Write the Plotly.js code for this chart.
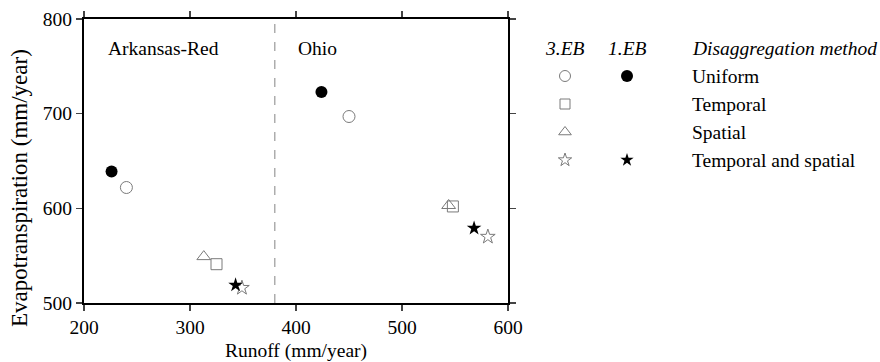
<!DOCTYPE html>
<html><head><meta charset="utf-8">
<script src="https://cdn.plot.ly/plotly-3.0.1.min.js"></script>
<style>body{margin:0;background:#fff}#c{width:880px;height:362px}</style>
</head><body><div id="c"></div>
<script>
// ---- data ----
const methods = ['Uniform', 'Temporal', 'Spatial', 'Temporal and spatial'];
const basinNames = ['Arkansas-Red', 'Ohio'];
const basinLabelX = [221, 400];
const basinLabelY = 769;
const dividerX = 380;
// 3.EB (open symbols) per method: [Arkansas-Red, Ohio]
const eb3Runoff = {
  'Uniform': [240, 450],
  'Temporal': [325, 548],
  'Spatial': [313, 544],
  'Temporal and spatial': [349, 581]
};
const eb3ET = {
  'Uniform': [622, 697],
  'Temporal': [541, 602],
  'Spatial': [549, 603],
  'Temporal and spatial': [516, 570]
};
// 1.EB (filled symbols) only for two methods
const eb1Runoff = {
  'Uniform': [226, 424],
  'Temporal and spatial': [343, 568]
};
const eb1ET = {
  'Uniform': [639, 723],
  'Temporal and spatial': [519, 579]
};
const xTicks = [200, 300, 400, 500, 600];
const yTicks = [500, 600, 700, 800];

// ---- styles ----
const openSym = {'Uniform':'circle-open','Temporal':'square-open','Spatial':'triangle-up-open','Temporal and spatial':'star-open'};
const fillSym = {'Uniform':'circle','Temporal and spatial':'star'};
const openSize = {'Uniform':12,'Temporal':11,'Spatial':12,'Temporal and spatial':11};
const fillSize = {'Uniform':12,'Temporal and spatial':11};
const legOpenSize = {'Uniform':11,'Temporal':10,'Spatial':11,'Temporal and spatial':10};
const legFillSize = {'Uniform':12,'Temporal and spatial':10};
const grey = '#7a7a7a';
const FONT = 'Liberation Serif, Times New Roman, serif';
const FS = 19.5;

const traces = [];
methods.forEach(m => {
  traces.push({x: eb3Runoff[m], y: eb3ET[m], type:'scatter', mode:'markers',
    marker:{symbol:openSym[m], size:openSize[m], color:grey, line:{color:grey, width:1}},
    xaxis:'x', yaxis:'y', hoverinfo:'skip'});
  if (eb1Runoff[m]) traces.push({x: eb1Runoff[m], y: eb1ET[m], type:'scatter', mode:'markers',
    marker:{symbol:fillSym[m], size:fillSize[m], color:'#000'},
    xaxis:'x', yaxis:'y', hoverinfo:'skip'});
});

// legend drawn in a secondary, hidden axis
const col3 = 565, col1 = 627, colText = 690;
methods.forEach((m, i) => {
  traces.push({x:[col3], y:[i+1], type:'scatter', mode:'markers',
    marker:{symbol:openSym[m], size:legOpenSize[m], color:grey, line:{color:grey, width:1}},
    xaxis:'x2', yaxis:'y2', hoverinfo:'skip'});
  if (fillSym[m]) traces.push({x:[col1], y:[i+1], type:'scatter', mode:'markers',
    marker:{symbol:fillSym[m], size:legFillSize[m], color:'#000'},
    xaxis:'x2', yaxis:'y2', hoverinfo:'skip'});
});

const annotations = [];
basinNames.forEach((b, i) => annotations.push({x: basinLabelX[i], y: basinLabelY, xref:'x', yref:'y',
  text:b, showarrow:false, xanchor:'left', yanchor:'middle', font:{family:FONT, size:FS, color:'#000'}}));
[['3.EB', col3, 'center'], ['1.EB', col1, 'center'], ['Disaggregation method', colText, 'left']].forEach(h =>
  annotations.push({x:h[1], y:0, xref:'x2', yref:'y2', text:'<i>'+h[0]+'</i>', showarrow:false,
    xanchor:h[2], yanchor:'middle', font:{family:FONT, size:FS, color:'#000'}}));
methods.forEach((m, i) => annotations.push({x:colText, y:i+1, xref:'x2', yref:'y2', text:m, showarrow:false,
  xanchor:'left', yanchor:'middle', font:{family:FONT, size:FS, color:'#000'}}));

const plotW = 880 - 84 - 5;
// y-axis title as a rotated annotation
annotations.push({x:(19-84)/plotW, y:(303-188)/284, xref:'paper', yref:'paper', text:'Evapotranspiration (mm/year)',
  textangle:-90, showarrow:false, xanchor:'center', yanchor:'middle', font:{family:FONT, size:23, color:'#000'}});

const layout = {
  width:880, height:362,
  margin:{l:84, r:5, t:19, b:59},
  paper_bgcolor:'#fff', plot_bgcolor:'#fff',
  showlegend:false,
  font:{family:FONT, size:FS, color:'#000'},
  xaxis:{domain:[0, (508-84)/plotW], range:[200, 600], tickvals:xTicks, ticks:'outside', ticklen:6, tickwidth:1.5,
    showline:true, linewidth:2, linecolor:'#000', mirror:'ticks', showgrid:false, zeroline:false,
    title:{text:'Runoff (mm/year)', font:{family:FONT, size:FS}, standoff:9}, tickfont:{family:FONT, size:FS}},
  yaxis:{range:[500, 800], tickvals:yTicks, ticks:'outside', ticklen:6, tickwidth:1.5,
    showline:true, linewidth:2, linecolor:'#000', mirror:'ticks', showgrid:false, zeroline:false,
    tickfont:{family:FONT, size:FS}},
  xaxis2:{domain:[(520-84)/plotW, 1], range:[520, 875], visible:false, anchor:'y2'},
  yaxis2:{range:[(303-48)/28, (19-48)/28], visible:false, anchor:'x2'},
  shapes:[{type:'line', xref:'x', yref:'y', x0:dividerX, x1:dividerX, y0:500, y1:800,
    line:{color:'#999', width:1.2, dash:'dash'}}],
  annotations: annotations
};
Plotly.newPlot('c', traces, layout, {staticPlot:true});
</script></body></html>
